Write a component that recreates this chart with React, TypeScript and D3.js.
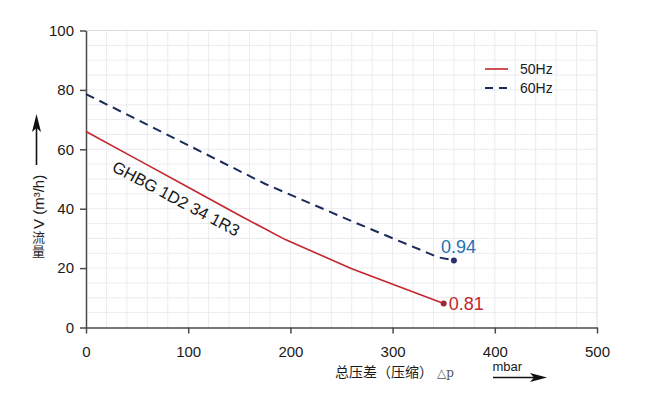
import React, { useEffect, useRef } from 'react';
import * as d3 from 'd3';

// pressure (mbar) / flow (m³/h)
const series50Hz: [number, number][] = [
  [0, 66], [50, 56.6], [100, 47.2], [150, 37.8], [195, 29.6], [260, 19.8], [350, 8.1],
];
const series60Hz: [number, number][] = [
  [0, 78.6], [104, 60.7], [175, 48.4], [260, 35.8], [345, 23.6], [360, 22.6],
];
const endLabels = ['0.81', '0.94'];
const legendNames = ['50Hz', '60Hz'];
const xTicks = [0, 100, 200, 300, 400, 500];
const yTicks = [0, 20, 40, 60, 80, 100];
const curveName = 'GHBG 1D2 34 1R3';

const W = 650;
const H = 399;
const FONT = '"Liberation Sans", Arial, sans-serif';
const CJK = '"Noto Sans CJK SC", sans-serif';

const App: React.FC = () => {
  const svgRef = useRef<SVGSVGElement>(null);

  useEffect(() => {
    if (!svgRef.current) return;
    const svg = d3.select(svgRef.current);
    svg.selectAll('*').remove();

    const x = d3.scaleLinear().domain([0, 500]).range([86, 597]);
    const y = d3.scaleLinear().domain([0, 100]).range([327.5, 30.5]);

    // grid
    const grid = svg.append('g');
    grid.selectAll('.gx')
      .data(d3.range(20, 501, 20))
      .enter().append('line')
      .attr('x1', d => x(d)).attr('x2', d => x(d))
      .attr('y1', y(0)).attr('y2', y(100))
      .attr('stroke', d => (d === 500 ? '#d9dde2' : '#e9ecf0'))
      .attr('stroke-width', 1);
    grid.selectAll('.gy')
      .data(d3.range(5, 101, 5))
      .enter().append('line')
      .attr('x1', x(0)).attr('x2', x(500))
      .attr('y1', d => y(d)).attr('y2', d => y(d))
      .attr('stroke', d => (d === 100 ? '#d9dde2' : '#e9ecf0'))
      .attr('stroke-width', 1);

    // axes
    const yAxis = svg.append('g')
      .attr('transform', `translate(${x(0)},0)`)
      .call(d3.axisLeft(y).tickValues(yTicks).tickSize(6).tickSizeOuter(0).tickPadding(6).tickFormat(d3.format('d')));
    const xAxis = svg.append('g')
      .attr('transform', `translate(0,${y(0)})`)
      .call(d3.axisBottom(x).tickValues(xTicks).tickSize(6).tickSizeOuter(0).tickPadding(13).tickFormat(d3.format('d')));
    [yAxis, xAxis].forEach(a => {
      a.select('.domain').attr('stroke', '#4a4a4a').attr('stroke-width', 1.5);
      a.selectAll('.tick line').attr('stroke', '#4a4a4a').attr('stroke-width', 1.5);
      a.selectAll('.tick text').attr('fill', '#1a1a1a').style('font-family', FONT).style('font-size', '15px');
    });

    // curves
    const line = d3.line<[number, number]>().x(d => x(d[0])).y(d => y(d[1]));
    svg.append('path').datum(series50Hz)
      .attr('d', line).attr('fill', 'none')
      .attr('stroke', '#c3272d').attr('stroke-width', 1.6);
    svg.append('path').datum(series60Hz)
      .attr('d', line).attr('fill', 'none')
      .attr('stroke', '#1c2a5c').attr('stroke-width', 2)
      .attr('stroke-dasharray', '9,6');

    const e50 = series50Hz[series50Hz.length - 1];
    const e60 = series60Hz[series60Hz.length - 1];
    svg.append('circle').attr('cx', x(e50[0])).attr('cy', y(e50[1])).attr('r', 3).attr('fill', '#9e2a36');
    svg.append('circle').attr('cx', x(e60[0])).attr('cy', y(e60[1])).attr('r', 3).attr('fill', '#2a2f68');

    svg.append('text')
      .attr('x', x(e50[0]) + 5).attr('y', y(e50[1]) + 6.5)
      .attr('fill', '#c3272d').style('font-family', FONT).style('font-size', '18px')
      .text(endLabels[0]);
    svg.append('text')
      .attr('x', x(e60[0]) - 13).attr('y', y(e60[1]) - 7)
      .attr('fill', '#2471b3').style('font-family', FONT).style('font-size', '18px')
      .text(endLabels[1]);

    // curve name, under the red line
    svg.append('text')
      .attr('transform', `translate(${x(24.5)},${y(52.9)}) rotate(28)`)
      .attr('fill', '#1a1a1a').style('font-family', FONT).style('font-size', '16.5px')
      .text(curveName);

    // legend
    const lg = svg.append('g');
    lg.append('line').attr('x1', 485).attr('x2', 508).attr('y1', 69).attr('y2', 69)
      .attr('stroke', '#c3272d').attr('stroke-width', 1.6);
    lg.append('line').attr('x1', 485).attr('x2', 508).attr('y1', 88).attr('y2', 88)
      .attr('stroke', '#1c2a5c').attr('stroke-width', 2).attr('stroke-dasharray', '8,6');
    legendNames.forEach((n, i) => {
      lg.append('text').attr('x', 520).attr('y', 74 + i * 19)
        .attr('fill', '#1a1a1a').style('font-family', FONT).style('font-size', '14px').text(n);
    });

    // y axis title
    const yt = svg.append('g');
    yt.append('text')
      .attr('transform', 'translate(44,229) rotate(-90)')
      .attr('fill', '#1a1a1a').style('font-family', FONT).style('font-size', '15px')
      .text('V (m³/h)');
    yt.append('text').attr('x', 38.5).attr('y', 231)
      .style('writing-mode', 'vertical-rl')
      .style('letter-spacing', '1px')
      .attr('fill', '#2a2a2a').style('font-family', CJK).style('font-size', '13px')
      .text('流量');
    yt.append('line').attr('x1', 36.5).attr('x2', 36.5).attr('y1', 165).attr('y2', 128)
      .attr('stroke', '#111').attr('stroke-width', 1.6);
    yt.append('path').attr('d', 'M36.5,114 L32,132 L36.5,128 L41,132 Z').attr('fill', '#111');

    // x axis title
    const xt = svg.append('g');
    xt.append('text').attr('x', 335).attr('y', 377)
      .attr('fill', '#1a1a1a').style('font-family', CJK).style('font-size', '14px')
      .text('总压差（压缩）');
    xt.append('text').attr('x', 437).attr('y', 377)
      .attr('fill', '#555').style('font-family', '"DejaVu Serif", serif').style('font-size', '12px')
      .text('△p');
    xt.append('text').attr('x', 492.5).attr('y', 371)
      .attr('fill', '#1a1a1a').style('font-family', FONT).style('font-size', '13px')
      .text('mbar');
    xt.append('line').attr('x1', 493).attr('x2', 535).attr('y1', 377.5).attr('y2', 377.5)
      .attr('stroke', '#111').attr('stroke-width', 1.6);
    xt.append('path').attr('d', 'M547,377.5 L530,373 L534,377.5 L530,382 Z').attr('fill', '#111');
  }, []);

  return (
    <svg
      ref={svgRef}
      width={W}
      height={H}
      viewBox={`0 0 ${W} ${H}`}
      style={{ position: 'absolute', left: 0, top: 0, background: '#fff' }}
    />
  );
};

export default App;
